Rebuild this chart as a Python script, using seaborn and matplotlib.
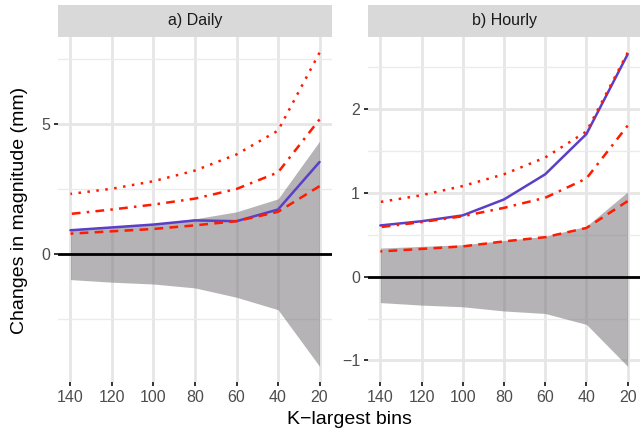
import numpy as np
import pandas as pd
import matplotlib
matplotlib.use('Agg')
import matplotlib.pyplot as plt
from matplotlib.patches import Rectangle
import seaborn as sns

# K-largest bins (x axis, drawn reversed)
k_bins = [140, 120, 100, 80, 60, 40, 20]
panel_titles = ['a) Daily', 'b) Hourly']

# a) Daily
daily_obs = [0.90, 1.01, 1.12, 1.28, 1.25, 1.70, 3.53]
daily_dashed = [0.77, 0.86, 0.95, 1.09, 1.25, 1.61, 2.60]
daily_dotdash = [1.53, 1.70, 1.89, 2.12, 2.49, 3.13, 5.17]
daily_dotted = [2.30, 2.50, 2.79, 3.20, 3.82, 4.74, 7.74]
daily_band_hi = [0.95, 1.05, 1.16, 1.34, 1.61, 2.11, 4.33]
daily_band_lo = [-1.00, -1.10, -1.17, -1.32, -1.68, -2.16, -4.34]

# b) Hourly
hourly_obs = [0.61, 0.66, 0.73, 0.92, 1.22, 1.70, 2.65]
hourly_dashed = [0.30, 0.33, 0.36, 0.42, 0.47, 0.58, 0.90]
hourly_dotdash = [0.59, 0.65, 0.72, 0.82, 0.94, 1.17, 1.80]
hourly_dotted = [0.89, 0.97, 1.08, 1.22, 1.42, 1.73, 2.67]
hourly_band_hi = [0.34, 0.36, 0.38, 0.43, 0.48, 0.60, 1.01]
hourly_band_lo = [-0.31, -0.34, -0.36, -0.41, -0.44, -0.57, -1.07]

series_names = ['obs', 'dashed', 'dotdash', 'dotted']
panel_data = {
    'a) Daily': [daily_obs, daily_dashed, daily_dotdash, daily_dotted],
    'b) Hourly': [hourly_obs, hourly_dashed, hourly_dotdash, hourly_dotted],
}
panel_band = {
    'a) Daily': (daily_band_lo, daily_band_hi),
    'b) Hourly': (hourly_band_lo, hourly_band_hi),
}
major_y = {'a) Daily': [0, 5], 'b) Hourly': [-1, 0, 1, 2]}
minor_y = {'a) Daily': [-2.5, 2.5, 7.5], 'b) Hourly': [-0.5, 0.5, 1.5, 2.5]}

palette = {'obs': '#5b3fc6', 'dashed': '#ff1a00', 'dotdash': '#ff1a00', 'dotted': '#ff1a00'}
dashes = {'obs': '', 'dashed': (3.5, 2.5), 'dotdash': (1, 2.5, 3.5, 2.5), 'dotted': (1, 2.6)}

rows = []
for title in panel_titles:
    for name, vals in zip(series_names, panel_data[title]):
        for k, v in zip(k_bins, vals):
            rows.append({'panel': title, 'series': name, 'k': k, 'value': v})
df = pd.DataFrame(rows)

sns.set_theme(style='white')
plt.rcParams['font.family'] = ['Liberation Sans', 'DejaVu Sans']

fig = plt.figure(figsize=(6.4, 4.33), dpi=100)
W, H = 640, 433
boxes = [(58, 332), (368, 640)]
top, bottom = 37, 382

for title, (x0, x1) in zip(panel_titles, boxes):
    ax = fig.add_axes([x0 / W, (H - bottom) / H, (x1 - x0) / W, (bottom - top) / H])
    lo, hi = panel_band[title]
    sub = df[df['panel'] == title]

    ax.fill_between(k_bins, lo, hi, color='#7f7a7f', alpha=0.57, linewidth=0, zorder=2)
    ax.axhline(0, color='black', lw=2.0, zorder=3)
    sns.lineplot(data=sub, x='k', y='value', hue='series', style='series',
                 palette=palette, dashes=dashes, lw=1.8, legend=False, ax=ax, zorder=4)

    allv = np.concatenate([sub['value'].values, lo, hi])
    pad = (allv.max() - allv.min()) * 0.05
    ax.set_ylim(allv.min() - pad, allv.max() + pad)
    ax.set_xlim(146, 14)
    ax.set_xticks(k_bins)
    ax.set_yticks(major_y[title])
    ax.set_yticks(minor_y[title], minor=True)
    ax.grid(True, which='major', color='#e6e6e6', lw=2.0, zorder=0)
    ax.grid(True, which='minor', axis='y', color='#ebebeb', lw=1.0, zorder=0)
    ax.set_axisbelow(True)
    for s in ax.spines.values():
        s.set_visible(False)
    ax.tick_params(axis='both', which='major', length=3.2, width=1.4, color='#333333',
                   labelcolor='#4d4d4d', labelsize=11.5, pad=2.5, bottom=True, left=True)
    ax.tick_params(axis='y', which='minor', length=0)
    ax.set_xlabel('')
    ax.set_ylabel('')

    strip_h = 32 / (bottom - top)
    ax.add_patch(Rectangle((0, 1), 1, strip_h, transform=ax.transAxes,
                           facecolor='#d9d9d9', edgecolor='none', clip_on=False))
    ax.text(0.5, 1 + strip_h / 2, title, transform=ax.transAxes, ha='center',
            va='center', fontsize=11.5, color='#1a1a1a')

fig.text(349 / W, (H - 420) / H, 'K\u2212largest bins', ha='center', va='center',
         fontsize=14, color='black')
fig.text(20 / W, (H - 210) / H, 'Changes in magnitude (mm)', ha='center',
         va='center', rotation=90, fontsize=14, color='black')

fig.savefig('out.png', dpi=100)
